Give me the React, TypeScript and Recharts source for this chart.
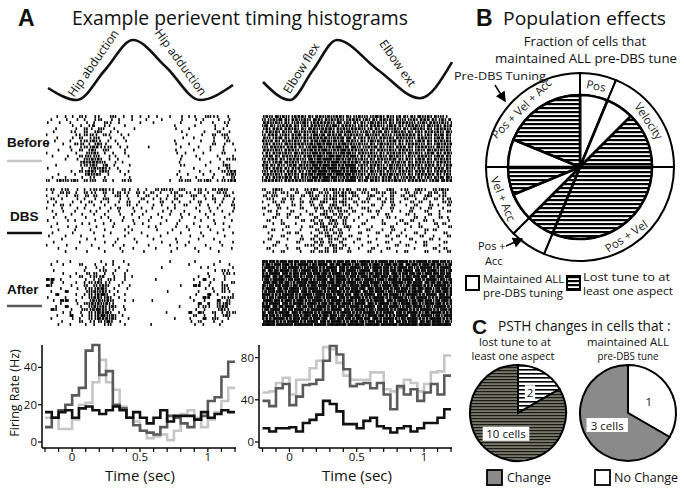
import React from 'react'
import { LineChart, Line, XAxis, YAxis, ScatterChart, Scatter, PieChart, Pie, Cell } from 'recharts'

const FONT = '"Open Sans", "Noto Sans", sans-serif'
const BOLD = '"Liberation Sans", Arial, sans-serif'
const NARROW = '"Liberation Sans Narrow", "Liberation Sans", Arial, sans-serif'
const RAD = Math.PI / 180

// movement traces above the rasters (x in px along the trace, y = normalized position)
const HIP_SWEEP_X = [0, 29, 57, 85, 118, 152, 185]
const HIP_SWEEP_Y = [0.2, 0, 0.5, 1, 0.55, 0, 0.25]
const ELBOW_SWEEP_X = [0, 27, 50, 74, 115, 157, 189]
const ELBOW_SWEEP_Y = [0.3, 0, 0.5, 1, 0.5, 0.03, 0.63]

// PSTH bins (sec), 50 ms wide
const TIME_BINS = [-0.2, -0.15, -0.1, -0.05, 0, 0.05, 0.1, 0.15, 0.2, 0.25, 0.3, 0.35, 0.4, 0.45, 0.5, 0.55, 0.6, 0.65, 0.7, 0.75, 0.8, 0.85, 0.9, 0.95, 1.0, 1.05, 1.1, 1.15]
const TIME_END = 1.2
const TIME_TICKS = [-0.2, -0.1, 0, 0.1, 0.2, 0.3, 0.4, 0.5, 0.6, 0.7, 0.8, 0.9, 1, 1.1, 1.2]
const TIME_LABELS = [0, 0.5, 1]

// firing rates (Hz)
const HIP_BEFORE = [13, 13, 7, 7, 12, 20, 21, 32, 44, 32, 28, 19, 13, 11, 6, 2, 3, 4, 1, 6, 15, 17, 13, 8, 12, 16, 22, 29]
const HIP_DBS = [16, 13, 16, 17, 13, 18, 19, 17, 15, 17, 19, 17, 13, 16, 13, 10, 13, 17, 11, 14, 14, 14, 12, 16, 13, 15, 17, 16]
const HIP_AFTER = [8, 13, 17, 20, 25, 29, 49, 52, 36, 38, 20, 18, 13, 9, 6, 5, 4, 8, 14, 13, 10, 8, 12, 14, 22, 24, 35, 43]
const HIP_Y_TICKS = [0, 20, 40]

const ELBOW_BEFORE = [47, 48, 56, 61, 45, 59, 59, 70, 77, 90, 88, 75, 63, 59, 59, 59, 66, 66, 50, 48, 51, 59, 56, 48, 55, 66, 67, 82]
const ELBOW_DBS = [13, 10, 13, 13, 14, 10, 18, 21, 26, 39, 36, 29, 17, 17, 13, 20, 23, 15, 13, 9, 13, 15, 10, 13, 18, 18, 23, 31]
const ELBOW_AFTER = [39, 34, 51, 55, 35, 43, 54, 55, 59, 77, 91, 83, 69, 53, 55, 56, 51, 56, 45, 31, 53, 45, 50, 39, 47, 55, 45, 63]
const ELBOW_Y_TICKS = [0, 40, 80]

// rasters: one row per trial, 40 bins of 35 ms, hex digit = which of 4 sub-slots hold a spike
const HIP_RASTER_BEFORE = [
  '..4.82.a4. 48.2a.4.81 .2.4..8.2. 84.2a48.4.',
  '.8..4.2.8. 4a.1.4..8. .8..4...2. .2.8..4.2.',
  '4.1..8..2. 8.52.4...1 ..2.....4. ..2..8.24.',
  '.....2.4.9 8.44..2... .......8.. .4...2..8.',
  '..8...4.a2 .a8.4...2. .......4.. 8....2.4..',
  '.2...48.a. 5a.2.8.... ........2. ...4..a.2.',
  '8.....48a5 2.a4.1.4.. .........2 ..1..a.a8.',
  '..4..2.a.4 a8.2..4... ........1. .8...4.24.',
  '.1...8.4a5 a4.82.1... .......8.. ..2..4..a.',
  '4..2..a5.8 5a2..8.... .......4.. 8....a.2.4',
  '.....8.4a5 b24a.2.8.. .2......4. ..8.2..4..',
  '..2..4.a.b 4.a8..2... .......4.. .8..2..4.1',
  '8.....4.2a d.4.8.2... .......2.4 ...8...a..',
  '.4..2..a54 a8.42..4.. ........2. .2....8..4',
  '....8.2.ab 5a.4.8.... ........4. ..4...2.a5',
  '.......5ad b54.2.8... ........8. ....2..4..',
  '..8....4a5 a.b.4..2.. ........48 ...2...5a.',
  '4......2.a d5a4.8.... .......... .8....4.a.',
  '.....4.a5b 45a8.2.4.. ........8. ..4.2..a5b',
  '..2...8.5a b4.8..2... .......2.1 ...8.4..ad',
  '.4..8..2.4 8.4....2.. ........4. .2...8.4.a',
  'a.5aa5a.a5 4.a.8.a5.. ......8.a5 4.a5a.8a5b',
]
const HIP_RASTER_DBS = [
  '8a.4a.2.84 a5a48.a2.4 .8.a54a.a8 .4a2.a5a8.',
  '.4.a5.4.a2 4.a.8a24.a 2.a.8.4a.2 4.a.8.a5.4',
  '8.2.4.a.5. a.4.2a.8.4 .a.4.2.8a. 2a.4.8.2a.',
  '.a.4..2.8. 4.a8.2.4.. a.2.84.a.. .8.2.a.4.2',
  '4.8..2.4.a .2.8.4.a.2 .4..a.2.8. 4.a..2.8.4',
  '.2.a.8..4. 8.4.2..a.8 ..2.4..8.a ..4.8.2..a',
  '8..4..2.8. .4.2.a..4. 8.4..2.8.. .2..4.8..2',
  '.4.2..8..4 2..8.4..2. .8..2.4..8 ..4.2..8.4',
  '..8..4.2.. 8.4..2..8. 4..2..8.4. 8..2.4..2.',
  '.2..8...4. .2.8..4..2 ..8.4...2. .4..8..2..',
  '4...2.8... 4..2..8.4. .2...4..8. ..2..4...8',
  '..4....2.8 ..8.4...2. 4...8..2.. .8...2.4..',
  '.8..2.4... 2...8..4.. .2.8...4.2 ..4.8...2.',
  '..2...8..4 ..4...2.8. ...4..2... 8...2..4..',
  '.4...2.... 8..2...4.. 8....2..4. ..2...8..4',
  '2...8..4.. ..8...2... .4..8..... 4..8...2..',
  '...4....2. 4....8..2. ..2....4.. ..8..4....',
  '.2.....8.. ..4.2....8 ....4..2.. 8.....2..4',
  '8...4....2 ....8.4... .2....8..4 ...2...8..',
  '..2...4... .8...2..4. ...8...2.. .4..2....8',
  '....8...2. ..4...8... 2.....4... ..8...4...',
]
const HIP_RASTER_AFTER = [
  '..4..8.... .2..8.4... ......8... .4....2...',
  '.8.2...a.. 4.2.8..4.. .......... 8....4..2.',
  '........4. 2.8..4.... ....4..... ..2.8....4',
  '.2......8. .4a.2..8.. .......... .....2.a4.',
  '...2..4.28 a.4.8.2... .......... ....8..4a2',
  '.....8.a.4 a58.4.2.8. .......... ..8.4..2..',
  'ee.8....4. 8a.a4.2... ...8...... .8.e.4.2..',
  '.c.2..4.8a 5a24..8... .......... ..4.2..8.a',
  'e8...4..a. a5a8.4.2.. ........4. .ec.4..a8.',
  '...8..2.4a 5ba.4..8.. .......... ...2.8.a4.',
  '.8..e...2a d5a4.8.... .....2.... ..8..4.a2.',
  '..e...4.8a 5bd.4.2... .......... .2..e.8..4',
  '4...8..2.a da5a.4.... .......... 4..ec..a54',
  '.2.ee.4..5 ad5a8.2.4. ..4....... .8.4..e.a.',
  '...8..2.ab 5ab48..... .......... ..e.c.a5a.',
  '..8.e..4.a d5a5a.4... ........8. ..8a4.ad8.',
  '.e8..4.2a5 bda48.2... .......... .2.4..5a4.',
  '...2.8.4.a 5dba.4.... .....4.... e.e8.a.8a5',
  '..4..e.2.a 5bd5a.8... .......... .a.4.2.5a.',
  '.8...2.8.a 5db5a..4.. .......8.. 4..e.a8.4.',
  '...4...a.4 8a5d.2.... .......... 2.a..4.8..',
  '..2..8..4. 8.4a..2... ..8....... .4.8..2...',
]
const ELBOW_RASTER_BEFORE = [
  '5a9d6a5b69 a6d5ab69a5 6a95da6a59 a69d5a6a9.',
  'a56b9a6d5a 9da6b5a96d a5a69b5a6a 95a6d9a5a6',
  '6d5a9a56ba 5b6da9e5a6 9a5d6a9a5b 6a95a6d5a9',
  'b9a56d9a5a 6dab5e9b6a 5a9b6a5d9a 5b6a9d5a6b',
  '5a6d9b5a69 dab6e9ad5b 6a59a6d5a9 a5d69a5b6a',
  '9b5a6a9d5a ba6ed9b5ea 95a6b9a5d6 9a5a6b5a9d',
  'a6d95a6b9a 5eb9dae6b5 a9d5a6a95b 6d9a5a6b9a',
  '6a5b9a6d5a db6eadb9e6 5a6a9b5a6d 5a9b6a5d9a',
  'd59a6b5a9a 6ebdaeb9da 9a5d6a5b9a 6a5d9a6b5a',
  '5a6a9d5b6a ebdbeadeb5 6a9a5d6a9a 5b6a9a5d6b',
  'a9b5a6d9a5 bdeadbeb9e a56b9a5a6d 9a5b6a9d5a',
  '6d5a9b6a5a edbeadbedb 5a9a6d5a9b 6a5a9d6b5a',
  '9a6b5a9d6a bedbeabdea 6d5a9a6b5a 9d6a5b9a6d',
  '5b9a6d5a9b dbeafbedbe 9a6b5a9d6a 5a9b6a5d9a',
  'a6d9a5b6a9 ebdfebdaeb 5a9a6d5b9a 6a5d9a6b5a',
  '6a5b9d6a5a fbedbfaedb a6d5a9a6b5 9a6d5a9b6a',
  'd9a6a5b9d6 bedfbedbfe 5a9b6a5d6a 9b5a6d9a5b',
  '5a6d9a6b5a efbdfebdbe 9a5a6b9d5a 6a9b5a6d9a',
  'a9b5a6d9a5 bdfebfedbf 6a9d5a6a9b 5a6d9a5b6a',
  '6d5a9b5a6d ebfdebfbed 5a6a9b5d6a 9a5b6d9a5a',
  '9a6b5d9a6a bedfbeadbe a9d5a6b9a5 6d9a5a6b9d',
  'b6da9b6dab edbfaedbfe 6b9da6b5da 9b6da5b9db',
]
const ELBOW_RASTER_DBS = [
  'a.5a8.a4.a 5a.a5a49a. a5.a8.5a.4 a.5a4.a5a8',
  '.a5.a4.a.5 a.a5.a9a5a .a4.a5.a8. 5.a4.a5.a.',
  '5.a8.4a.5. a5.a4a5a.a 8.5a.4.a.5 .a8.5a.4a.',
  '.a4.5.a.8. 5a.a5a.a5. 4.a.5.8a.. a.4.a.5.8a',
  '8.5.a.4.a. a.5a.a5a.5 .a4..5.a.8 .5.a.4..a5',
  '.4.a..5.8. 5.a.5a.a4. 8..a.4.5.. 4.a..5.8.a',
  'a..5.4..a. .a5.a5a.5. .a4..8.a.. .5.4.a..8.',
  '.5.8..a..4 .4.a5.a5.a ..5.a..4.8 .a..5..4.a',
  '4..a.5..8. a.5a.a5.4. .8..4.a... 5.8..a.4..',
  '..5..4.a.. .a.5a.a5.. 4..a..5.8. ..a.4..5.8',
  '.a..8...5. 5.a.5a.a.4 ..8..4...a .5..a.8..4',
  '..4.a..8.. .a5.a5.a.. .a...5..4. a..8..5.a.',
  '5....a..4. a.5a.a.5a. 4..8...a.. .4.a...8.5',
  '..a.4...8. .5.a5.a.4. ..a..4.5.. 8...5.a...',
  '.4...5.a.. 4.a5.a5... 5...a..8.4 ..a.4...5.',
  '..8.a...4. .a.5a.a.5. ..4...a.5. 4..5..8..a',
  '.5...4..a. 5.a.a5.a.. a...8..4.. .a...5.4..',
  '4..a...5.. .a5.a.5..4 ..5...a..8 ..4.a...5.',
  '..5..8...a 5.a.5a.a.. .8..4...a. 5...a..4..',
  '.a...4.5.. .a.5.a5.4. 4..a..5... ..8...a.5.',
  '..4.a...8. 5.a5.a..a. ..5..8..4. a...5..4.a',
]
const ELBOW_RASTER_AFTER = [
  'fbedfbdefb edfbedfbde bfedbfdebf edbfedfbed',
  'debf7edbfe bdfe7bdfeb dfb7edfbde 7bedfbdeb7',
  'bfed7bfedb fedbfe7dbf ebd7fbedbf deb7fedbfe',
  'e7bdfebd7f bedfbe7dfe bfe7dbefbd fe7bdfebd7',
  'dbfe7dbefb dfbedfebdf 7ebdfbe7db efbd7efbde',
  'fe7bdfbed7 ebfdebfdbe dfb7efdbeb 7dfbe7dfbe',
  'bd7febdf7e dbfe7bfedb ebfd7ebfdb fe7dbfebd7',
  '7efbdeb7fd febdfbedfe b7dfebd7fe bdfe7bdefb',
  'ebdf7ebdfb 7dfebfdebf dfebd7fbed 7bfedb7fed',
  'dfe7bdfebd febdfe7bdf be7dfbedf7 ebdf7ebdfb',
  'b7efdbfe7d bfedbfedbf e7bdfebd7f dbfe7dbefb',
  'fedb7fedbf d7fbedfbe7 dbfe7bdfeb 7fedbfe7db',
  'ebd7fbedfb efdbfe7dbf edb7fedbfe d7bfedb7fe',
  '7fbedfb7ed bfedbfedfb 7edbfe7dbf ebdf7ebdfb',
  'dbfe7dbfeb fdbefbdfeb fe7dbfebd7 fbed7fbedb',
  'fe7bdfe7bd ebfdbefdbf dbfe7bdfeb 7dfebd7fed',
  'bdfe7bdfeb 7fedbfe7db febd7fedbf edb7fedbf7',
  'e7dbfe7dbf edbfedbfed b7fedbfe7d bfed7bfedb',
  'fbed7fbedf bedf7ebdfb ed7fbedb7f e7dbfebd7f',
  'db7fedbf7e dfbe7dfbed fbe7dbfed7 bfedb7fedb',
  '7fedb7fedb fe7dbfedbf bd7efbde7b dfe7bdfebd',
  'ffefffdfff effdfffeff fdffefffdf ffeffdfffe',
]
const RASTER_BIN = 0.035

// panel B: pre-DBS tuning groups (cells) and, inside, which cells lost tuning
const RING_GROUPS = ['Pos', 'Velocity', 'Pos + Vel', 'Pos + Acc', 'Vel + Acc', 'Pos + Vel + Acc']
const RING_CELLS = [1, 3, 5, 1, 2, 4]
const RING_LABEL_INSIDE = [true, true, true, false, true, true]
const INNER_CELLS = [1, 1, 2, 5, 1, 1, 1, 1, 3]
const INNER_LOST = [false, false, true, true, true, false, true, false, true]

// panel C
const LOST_PIE_TAGS = ['2', '10 cells']
const LOST_PIE_CELLS = [2, 10]
const MAINT_PIE_TAGS = ['1', '3 cells']
const MAINT_PIE_SHARE = [1, 2]

function spikesFrom(rows: string[]) {
  const out: { t: number; row: number }[] = []
  rows.forEach((line, r) => {
    const bins = line.replace(/ /g, '')
    for (let b = 0; b < bins.length; b++) {
      const ch = bins[b]
      if (ch === '.') continue
      const mask = parseInt(ch, 16)
      for (let s = 0; s < 4; s++) {
        if (mask & (8 >> s)) out.push({ t: -0.2 + (b + (s + 0.5) / 4) * RASTER_BIN, row: r })
      }
    }
  })
  return out
}

const SpikeTick = (props: any) => (
  <rect x={props.cx - 0.8} y={props.cy - 1.4} width={1.6} height={2.8} fill="#000" />
)

function Raster({ rows, left, top, height }: { rows: string[]; left: number; top: number; height: number }) {
  const data = spikesFrom(rows)
  return (
    <div style={{ position: 'absolute', left, top }}>
      <ScatterChart width={190} height={height} margin={{ top: 0, right: 0, bottom: 0, left: 0 }}>
        <XAxis type="number" dataKey="t" domain={[-0.2, TIME_END]} hide />
        <YAxis type="number" dataKey="row" domain={[-0.5, rows.length - 0.5]} reversed hide />
        <Scatter data={data} shape={SpikeTick} isAnimationActive={false} />
      </ScatterChart>
    </div>
  )
}

function Sweep({ xs, ys, left }: { xs: number[]; ys: number[]; left: number }) {
  const data = xs.map((x, i) => ({ x, y: ys[i] }))
  const span = xs[xs.length - 1]
  return (
    <div style={{ position: 'absolute', left, top: 37 }}>
      <LineChart width={span + 6} height={66} data={data} margin={{ top: 3, right: 3, bottom: 3, left: 3 }}>
        <XAxis type="number" dataKey="x" domain={[0, span]} hide />
        <YAxis type="number" domain={[0, 1]} hide />
        <Line type="monotone" dataKey="y" stroke="#111" strokeWidth={2.6} dot={false} isAnimationActive={false} />
      </LineChart>
    </div>
  )
}

const axisStroke = { stroke: '#000', strokeWidth: 1.5 }
const tickStroke = { stroke: '#000', strokeWidth: 1.2 }
const tickFont = { fontSize: 11.5, fill: '#111', fontFamily: FONT }

function Psth(p: {
  before: number[]; dbs: number[]; after: number[]; yMax: number; yTicks: number[]
  left: number; yWidth: number; padLeft: number; right: number
}) {
  const data = TIME_BINS.map((t, i) => ({ t, before: p.before[i], dbs: p.dbs[i], after: p.after[i] }))
  const n = TIME_BINS.length - 1
  data.push({ t: TIME_END, before: p.before[n], dbs: p.dbs[n], after: p.after[n] })
  return (
    <div style={{ position: 'absolute', left: p.left, top: 335 }}>
      <LineChart width={240} height={155} data={data} margin={{ top: 10, right: p.right, bottom: 0, left: 0 }}>
        <XAxis
          dataKey="t"
          type="number"
          domain={[-0.2, TIME_END]}
          ticks={TIME_TICKS}
          interval={0}
          tickFormatter={(v) => (TIME_LABELS.includes(v) ? String(v) : '')}
          padding={{ left: p.padLeft, right: 1 }}
          height={42}
          tickSize={4}
          tickMargin={1}
          axisLine={axisStroke}
          tickLine={tickStroke}
          tick={tickFont}
        />
        <YAxis
          type="number"
          domain={[0, p.yMax]}
          ticks={p.yTicks}
          interval={0}
          width={p.yWidth}
          padding={{ top: 0, bottom: 6 }}
          tickSize={4}
          tickMargin={1}
          axisLine={axisStroke}
          tickLine={tickStroke}
          tick={tickFont}
        />
        <Line type="stepAfter" dataKey="before" stroke="#c6c6c6" strokeWidth={2.6} dot={false} isAnimationActive={false} />
        <Line type="stepAfter" dataKey="after" stroke="#5a5a5a" strokeWidth={2.6} dot={false} isAnimationActive={false} />
        <Line type="stepAfter" dataKey="dbs" stroke="#111" strokeWidth={2.6} dot={false} isAnimationActive={false} />
      </LineChart>
    </div>
  )
}

function ringLabel(p: any) {
  const entry = p.payload ?? p
  if (!entry.inside) return null
  const r = (p.innerRadius + p.outerRadius) / 2
  const x = p.cx + r * Math.cos(-p.midAngle * RAD)
  const y = p.cy + r * Math.sin(-p.midAngle * RAD)
  const clock = (((90 - p.midAngle) % 360) + 360) % 360
  const rot = clock > 90 && clock < 270 ? clock - 180 : clock >= 270 ? clock - 360 : clock
  return (
    <text x={x} y={y} transform={`rotate(${rot} ${x} ${y})`} textAnchor="middle" dominantBaseline="central"
      fontSize={11.5} fontFamily={FONT} fill="#222">
      {entry.name}
    </text>
  )
}

function PopulationPie() {
  const ring = RING_GROUPS.map((name, i) => ({ name, value: RING_CELLS[i], inside: RING_LABEL_INSIDE[i] }))
  const inner = INNER_CELLS.map((value, i) => ({ value, lost: INNER_LOST[i] }))
  return (
    <div style={{ position: 'absolute', left: 480, top: 67 }}>
      <PieChart width={200} height={200} margin={{ top: 0, right: 0, bottom: 0, left: 0 }}>
        <Pie data={ring} dataKey="value" cx={100} cy={100} innerRadius={72} outerRadius={94}
          startAngle={90} endAngle={-270} fill="#fff" stroke="#000" strokeWidth={2}
          label={ringLabel} labelLine={false} isAnimationActive={false} />
        <Pie data={inner} dataKey="value" cx={100} cy={100} innerRadius={0} outerRadius={72}
          startAngle={90} endAngle={-270} stroke="#000" strokeWidth={2.6} isAnimationActive={false}>
          {inner.map((c, i) => (
            <Cell key={i} fill={c.lost ? 'url(#hatchB)' : '#fff'} />
          ))}
        </Pie>
      </PieChart>
    </div>
  )
}

function changeLabel(p: any) {
  const entry = p.payload ?? p
  const r = p.outerRadius * 0.5
  const x = p.cx + r * Math.cos(-p.midAngle * RAD)
  const y = p.cy + r * Math.sin(-p.midAngle * RAD)
  const w = entry.tag.length * 5.2 + 5
  return (
    <g>
      <rect x={x - w / 2} y={y - 7} width={w} height={14} fill="#fff" />
      <text x={x} y={y} textAnchor="middle" dominantBaseline="central" fontSize={11.5} fontFamily={FONT} fill="#111">
        {entry.tag}
      </text>
    </g>
  )
}

function ChangePie({ tags, values, fills, left }: { tags: string[]; values: number[]; fills: string[]; left: number }) {
  const data = tags.map((tag, i) => ({ tag, value: values[i] }))
  return (
    <div style={{ position: 'absolute', left, top: 361 }}>
      <PieChart width={104} height={104} margin={{ top: 0, right: 0, bottom: 0, left: 0 }}>
        <Pie data={data} dataKey="value" cx={52} cy={52} innerRadius={0} outerRadius={48}
          startAngle={90} endAngle={-270} stroke="#000" strokeWidth={2}
          label={changeLabel} labelLine={false} isAnimationActive={false}>
          {data.map((d, i) => (
            <Cell key={i} fill={fills[i]} />
          ))}
        </Pie>
      </PieChart>
    </div>
  )
}

function Patterns() {
  return (
    <svg width={0} height={0} style={{ position: 'absolute' }}>
      <defs>
        <pattern id="hatchB" patternUnits="userSpaceOnUse" width={8} height={4}>
          <rect width={8} height={4} fill="#fff" />
          <rect width={8} height={2.2} fill="#000" />
        </pattern>
        <pattern id="hatchWhite" patternUnits="userSpaceOnUse" width={8} height={4}>
          <rect width={8} height={4} fill="#fff" />
          <rect width={8} height={1.6} fill="#000" />
        </pattern>
        <pattern id="hatchGray" patternUnits="userSpaceOnUse" width={8} height={3}>
          <rect width={8} height={3} fill="#77776a" />
          <rect width={8} height={1.2} fill="#1a1a14" />
        </pattern>
      </defs>
    </svg>
  )
}

function Overlay() {
  return (
    <svg width={684} height={491} style={{ position: 'absolute', left: 0, top: 0, pointerEvents: 'none' }}>
      <defs>
        <marker id="arrowHead" markerWidth={7} markerHeight={7} refX={6} refY={3.5} orient="auto">
          <path d="M0,0 L7,3.5 L0,7 z" fill="#000" />
        </marker>
      </defs>
      <g fontFamily={FONT} fill="#111">
        {/* Panel A */}
        <text x={18} y={26} fontFamily={BOLD} fontWeight="bold" fontSize={23}>A</text>
        <text x={72} y={25} fontSize={20} textLength={336} lengthAdjust="spacingAndGlyphs">Example perievent timing histograms</text>
        <text x={93} y={63} fontSize={12} textAnchor="middle" dominantBaseline="central" transform="rotate(-55 93 63)">Hip abduction</text>
        <text x={181} y={62} fontSize={12} textAnchor="middle" dominantBaseline="central" transform="rotate(54 181 62)">Hip adduction</text>
        <text x={301} y={68} fontSize={12} textAnchor="middle" dominantBaseline="central" transform="rotate(-58 301 68)">Elbow flex</text>
        <text x={398} y={63} fontSize={12} textAnchor="middle" dominantBaseline="central" transform="rotate(55 398 63)">Elbow ext</text>

        <text x={7} y={147} fontFamily={NARROW} fontWeight="bold" fontSize={13.5}>Before</text>
        <line x1={7} x2={42} y1={161} y2={161} stroke="#c6c6c6" strokeWidth={2.6} />
        <text x={10} y={221} fontFamily={NARROW} fontWeight="bold" fontSize={13.5}>DBS</text>
        <line x1={7} x2={42} y1={233} y2={233} stroke="#111" strokeWidth={2.6} />
        <text x={7} y={294} fontFamily={NARROW} fontWeight="bold" fontSize={13.5}>After</text>
        <line x1={7} x2={42} y1={306} y2={306} stroke="#5a5a5a" strokeWidth={2.6} />

        <text x={14} y={393} fontSize={12.5} textAnchor="middle" dominantBaseline="central" transform="rotate(-90 14 393)">Firing Rate (Hz)</text>
        <text x={140} y={481} fontSize={15} textAnchor="middle">Time (sec)</text>
        <text x={357} y={481} fontSize={15} textAnchor="middle">Time (sec)</text>

        {/* Panel B */}
        <text x={476} y={26} fontFamily={BOLD} fontWeight="bold" fontSize={23}>B</text>
        <text x={503} y={25} fontSize={19} textLength={163} lengthAdjust="spacingAndGlyphs">Population effects</text>
        <text x={585} y={46} fontSize={13} textAnchor="middle">Fraction of cells that</text>
        <text x={586} y={63} fontSize={13} textAnchor="middle" textLength={182} lengthAdjust="spacingAndGlyphs">maintained ALL pre-DBS tune</text>
        <text x={454} y={80} fontSize={11} textLength={92} lengthAdjust="spacingAndGlyphs">Pre-DBS Tuning</text>
        <line x1={495} y1={85} x2={505} y2={101} stroke="#000" strokeWidth={1.5} markerEnd="url(#arrowHead)" />
        <text x={478} y={250} fontSize={11}>Pos +</text>
        <text x={485} y={265} fontSize={11}>Acc</text>
        <line x1={506} y1={246} x2={522} y2={239} stroke="#000" strokeWidth={1.5} markerEnd="url(#arrowHead)" />

        <rect x={466} y={276} width={13} height={14} fill="#fff" stroke="#000" strokeWidth={2} />
        <text x={483} y={283} fontSize={11} textLength={81} lengthAdjust="spacingAndGlyphs">Maintained ALL</text>
        <text x={483} y={297} fontSize={11} textLength={80} lengthAdjust="spacingAndGlyphs">pre-DBS tuning</text>
        <rect x={567} y={276} width={13} height={14} fill="url(#hatchB)" stroke="#000" strokeWidth={2} />
        <text x={583} y={281} fontSize={11} textLength={87} lengthAdjust="spacingAndGlyphs">Lost tune to at</text>
        <text x={583} y={295} fontSize={11} textLength={90} lengthAdjust="spacingAndGlyphs">least one aspect</text>

        {/* Panel C */}
        <text x={472} y={334} fontFamily={BOLD} fontWeight="bold" fontSize={21}>C</text>
        <text x={498} y={331} fontSize={13.7}>PSTH changes in cells that :</text>
        <text x={515} y={346} fontSize={11} textAnchor="middle" textLength={72} lengthAdjust="spacingAndGlyphs">lost tune to at</text>
        <text x={513} y={360} fontSize={11} textAnchor="middle" textLength={83} lengthAdjust="spacingAndGlyphs">least one aspect</text>
        <text x={628} y={346} fontSize={11} textAnchor="middle" textLength={82} lengthAdjust="spacingAndGlyphs">maintained ALL</text>
        <text x={628} y={360} fontSize={11} textAnchor="middle" textLength={61} lengthAdjust="spacingAndGlyphs">pre-DBS tune</text>

        <rect x={487} y={470} width={15} height={15} fill="#8a8a8a" stroke="#000" strokeWidth={1.8} />
        <text x={507} y={482} fontSize={12.5}>Change</text>
        <rect x={595} y={470} width={15} height={15} fill="#fff" stroke="#000" strokeWidth={1.8} />
        <text x={614} y={482} fontSize={12.5}>No Change</text>
      </g>
    </svg>
  )
}

export default function App() {
  return (
    <div style={{ position: 'absolute', left: 0, top: 0, width: 684, height: 491, background: '#fff', fontFamily: FONT }}>
      <Patterns />
      <Sweep xs={HIP_SWEEP_X} ys={HIP_SWEEP_Y} left={45} />
      <Sweep xs={ELBOW_SWEEP_X} ys={ELBOW_SWEEP_Y} left={260} />

      <Raster rows={HIP_RASTER_BEFORE} left={46} top={115} height={67} />
      <Raster rows={HIP_RASTER_DBS} left={46} top={188} height={65} />
      <Raster rows={HIP_RASTER_AFTER} left={46} top={260} height={66} />
      <Raster rows={ELBOW_RASTER_BEFORE} left={262} top={115} height={67} />
      <Raster rows={ELBOW_RASTER_DBS} left={262} top={188} height={65} />
      <Raster rows={ELBOW_RASTER_AFTER} left={262} top={260} height={66} />

      <Psth before={HIP_BEFORE} dbs={HIP_DBS} after={HIP_AFTER} yMax={52} yTicks={HIP_Y_TICKS}
        left={0} yWidth={42} padLeft={3} right={4} />
      <Psth before={ELBOW_BEFORE} dbs={ELBOW_DBS} after={ELBOW_AFTER} yMax={92} yTicks={ELBOW_Y_TICKS}
        left={220} yWidth={39} padLeft={3.5} right={8} />

      <PopulationPie />
      <ChangePie tags={LOST_PIE_TAGS} values={LOST_PIE_CELLS} fills={['url(#hatchWhite)', 'url(#hatchGray)']} left={466} />
      <ChangePie tags={MAINT_PIE_TAGS} values={MAINT_PIE_SHARE} fills={['#fff', '#8a8a8a']} left={576} />

      <Overlay />
    </div>
  )
}
